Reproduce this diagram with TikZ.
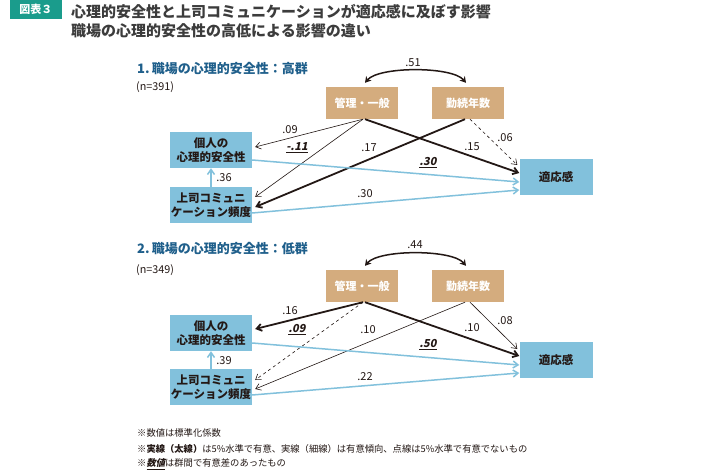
\documentclass[tikz,border=0pt]{standalone}
\usepackage{fontspec}
\setmainfont{Noto Sans CJK JP}
\newfontfamily\slantjp{Noto Sans CJK JP}[FakeSlant=0.2]
\usetikzlibrary{arrows.meta,positioning}
\definecolor{tagteal}{HTML}{1A9C8C}
\definecolor{titlegray}{HTML}{3C3C3C}
\definecolor{headblue}{HTML}{1F5F8B}
\definecolor{tanfill}{HTML}{D4AC7E}
\definecolor{skyblue}{HTML}{82C1DC}
\definecolor{ink}{HTML}{231815}
\tikzset{
  tanbox/.style={fill=tanfill,text=white,font=\fontsize{11}{13}\selectfont\bfseries,
    minimum width=72pt,minimum height=32pt,inner sep=0pt},
  bluebox/.style={fill=skyblue,text=ink,font=\fontsize{11.5}{14}\selectfont\bfseries,
    minimum width=82pt,minimum height=36pt,inner sep=0pt,align=center},
  thickarr/.style={-{Straight Barb[length=5pt,width=7pt]},line width=1.8pt,ink},
  thinarr/.style={-{Straight Barb[length=5pt,width=7pt]},line width=0.6pt,ink},
  dasharr/.style={thinarr,dashed},
  bluearr/.style={-{Straight Barb[length=5pt,width=7pt]},line width=1.5pt,skyblue},
  corr/.style={{Stealth[length=6pt,width=7pt]}-{Stealth[length=6pt,width=7pt]},line width=1.5pt,ink},
  lab/.style={font=\fontsize{11}{13}\selectfont,text=ink,inner sep=1pt},
  siglab/.style={font=\fontsize{11}{13}\selectfont\slantjp\bfseries,text=ink,inner sep=1pt},
  note/.style={font=\fontsize{9.3}{11}\selectfont,text=ink,anchor=west,inner sep=0pt},
}
\begin{document}
\begin{tikzpicture}[x=1pt,y=-1pt]
\useasboundingbox[fill=white] (0,0) rectangle (728,470);
% heading
\node[fill=tagteal,text=white,font=\fontsize{11}{13}\selectfont\bfseries,
  minimum width=52pt,minimum height=19pt,inner sep=0pt] (tag) at (36,9.5) {図表３};
\node[anchor=west,text=titlegray,font=\fontsize{15}{17}\selectfont\bfseries,inner sep=0pt]
  (title1) at (71,12) {心理的安全性と上司コミュニケーションが適応感に及ぼす影響};
\node[anchor=west,text=titlegray,font=\fontsize{15}{17}\selectfont\bfseries,inner sep=0pt]
  (title2) at (71,31) {職場の心理的安全性の高低による影響の違い};

% 1. high group
\node[anchor=west,text=headblue,font=\fontsize{13}{15}\selectfont\bfseries,inner sep=0pt]
  (head1) at (137,69) {1.\,職場の心理的安全性：高群};
\node[anchor=west,text=ink,font=\fontsize{10.8}{12}\selectfont,inner sep=0pt] (n1) at (136,87) {(n=391)};
\node[tanbox] (mg1) at (362,103) {管理・一般};
\node[tanbox] (kz1) at (468,103) {勤続年数};
\node[bluebox] (ps1) at (211,150) {個人の\\心理的安全性};
\node[bluebox] (jf1) at (211,205) {上司コミュニ\\ケーション頻度};
\node[bluebox,minimum width=73pt] (ad1) at (556,177) {適応感};
\draw[corr] ([xshift=3pt,yshift=4pt]mg1.north) to[out=50,in=130,looseness=0.55] ([xshift=-2pt,yshift=4pt]kz1.north);
\draw[thinarr] ([xshift=1pt]mg1.south) -- ([xshift=3pt,yshift=3pt]ps1.east);
\draw[thinarr] ([xshift=1pt]mg1.south) -- ([xshift=3pt,yshift=8pt]jf1.east);
\draw[thickarr] ([xshift=3pt]mg1.south) -- ([yshift=4pt]ad1.west);
\draw[thickarr] ([xshift=-3pt]kz1.south) -- ([xshift=3pt,yshift=-2pt]jf1.east);
\draw[dasharr] ([xshift=2pt]kz1.south) -- ([xshift=-2pt,yshift=12pt]ad1.west);
\draw[bluearr] ([yshift=-10pt]ps1.east) -- ([yshift=-5pt]ad1.west);
\draw[bluearr] ([yshift=-8pt]jf1.east) -- ([yshift=-13pt]ad1.west);
\draw[bluearr] (jf1.north) -- (ps1.south);
\node[lab] (c51) at (413,63) {.51};
\node[lab] (c09) at (290,130) {.09};
\node[siglab] (c11) at (297,148) {\underline{-.11}};
\node[lab] (c17) at (369,148) {.17};
\node[lab] (c15) at (472,147) {.15};
\node[lab] (c06) at (505,138) {.06};
\node[siglab] (c30a) at (428,163) {\underline{.30}};
\node[lab] (c30b) at (365,194) {.30};
\node[lab] (c36) at (224,178) {.36};

% 2. low group
\node[anchor=west,text=headblue,font=\fontsize{13}{15}\selectfont\bfseries,inner sep=0pt]
  (head2) at (137,249) {2.\,職場の心理的安全性：低群};
\node[anchor=west,text=ink,font=\fontsize{10.8}{12}\selectfont,inner sep=0pt] (n2) at (136,270) {(n=349)};
\node[tanbox] (mg2) at (362,286) {管理・一般};
\node[tanbox] (kz2) at (468,286) {勤続年数};
\node[bluebox] (ps2) at (211,333) {個人の\\心理的安全性};
\node[bluebox] (jf2) at (211,387) {上司コミュニ\\ケーション頻度};
\node[bluebox,minimum width=73pt] (ad2) at (556,360) {適応感};
\draw[corr] ([xshift=3pt,yshift=4pt]mg2.north) to[out=50,in=130,looseness=0.55] ([xshift=-2pt,yshift=4pt]kz2.north);
\draw[thickarr] ([xshift=1pt]mg2.south) -- ([xshift=3pt,yshift=4pt]ps2.east);
\draw[dasharr] ([xshift=1pt]mg2.south) -- ([xshift=3pt,yshift=7pt]jf2.east);
\draw[thickarr] ([xshift=3pt]mg2.south) -- ([yshift=4pt]ad2.west);
\draw[thinarr] ([xshift=-3pt]kz2.south) -- ([xshift=3pt,yshift=-2pt]jf2.east);
\draw[thinarr] ([xshift=2pt]kz2.south) -- ([xshift=-2pt,yshift=11pt]ad2.west);
\draw[bluearr] ([yshift=-10pt]ps2.east) -- ([yshift=-5pt]ad2.west);
\draw[bluearr] ([yshift=-8pt]jf2.east) -- ([yshift=-13pt]ad2.west);
\draw[bluearr] (jf2.north) -- (ps2.south);
\node[lab] (d44) at (415,245) {.44};
\node[lab] (d16) at (290,311) {.16};
\node[siglab] (d09) at (297,330) {\underline{.09}};
\node[lab] (d10a) at (368,330) {.10};
\node[lab] (d10b) at (472,328) {.10};
\node[lab] (d08) at (505,321) {.08};
\node[siglab] (d50) at (428,345) {\underline{.50}};
\node[lab] (d22) at (365,377) {.22};
\node[lab] (d39) at (224,361) {.39};

% notes
\node[note] (note1) at (137,433) {※数値は標準化係数};
\node[note] (note2) at (137,449) {※{\bfseries 実線（太線）}は5\%水準で有意、実線（細線）は有意傾向、点線は5\%水準で有意でないもの};
\node[note] (note3) at (137,464) {※\underline{\slantjp\bfseries 数値}は群間で有意差のあったもの};
\end{tikzpicture}
\end{document}
